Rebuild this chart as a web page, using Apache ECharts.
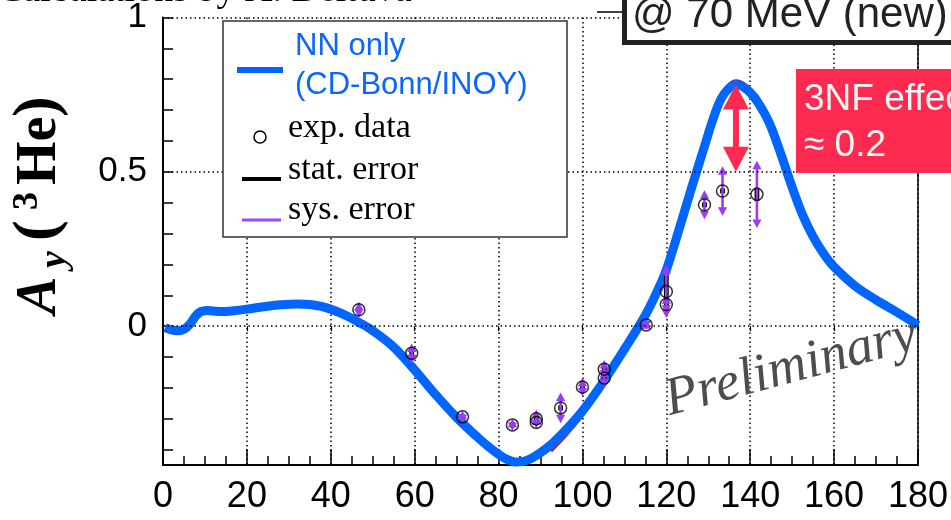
<!DOCTYPE html>
<html><head><meta charset="utf-8">
<script src="https://cdn.jsdelivr.net/npm/echarts@6/dist/echarts.min.js"></script>
<style>html,body{margin:0;padding:0;background:#fff}#c{width:951px;height:520px}</style>
</head><body><div id="c"></div>
<script>
// ---- data ----
const xTickValues = [0, 20, 40, 60, 80, 100, 120, 140, 160, 180];
const yLabels = [0, 0.5, 1];
const gridValues = [0, 0.5, 1];

// NN only (CD-Bonn/INOY) - thick blue
const nnAngles = [0.5, 2, 3.5, 5, 6.5, 7.8, 9, 10.5, 12, 14, 17, 20, 24, 28, 32, 35, 38, 41, 44, 47, 50, 55, 60, 65, 70, 75, 78, 80, 82, 84, 86, 88, 90, 93, 96, 100, 105, 110, 115, 118, 120, 123, 126, 129, 131, 133, 135, 136.6, 138, 140, 142, 144.5, 147, 150, 152.5, 155, 157.5, 160, 165, 170, 175, 180];
const nnValues = [-0.005, -0.012, -0.015, -0.01, 0.008, 0.033, 0.047, 0.051, 0.049, 0.047, 0.05, 0.055, 0.063, 0.069, 0.072, 0.07, 0.063, 0.05, 0.032, 0.01, -0.015, -0.068, -0.142, -0.222, -0.296, -0.36, -0.395, -0.415, -0.432, -0.44, -0.438, -0.427, -0.41, -0.378, -0.337, -0.275, -0.18, -0.075, 0.035, 0.118, 0.182, 0.312, 0.447, 0.578, 0.665, 0.735, 0.772, 0.783, 0.778, 0.757, 0.722, 0.66, 0.57, 0.45, 0.36, 0.29, 0.235, 0.192, 0.13, 0.085, 0.045, 0.003];

// other calculations (mostly hidden under the blue band)
const darkAngles = [89.5, 93, 96, 100, 105, 110, 115, 120, 126, 131, 134, 136.6, 139, 142, 147, 150, 155, 160, 170, 180];
const darkValues = [-0.425, -0.39, -0.348, -0.285, -0.188, -0.08, 0.03, 0.178, 0.445, 0.668, 0.76, 0.788, 0.777, 0.726, 0.572, 0.452, 0.292, 0.194, 0.086, 0.003];
const redAngles = [92.5, 96, 100, 105, 110, 115, 120, 126, 131, 134, 136.6, 139, 142, 147, 150, 155, 160, 170, 180];
const redValues = [-0.405, -0.355, -0.29, -0.193, -0.085, 0.027, 0.175, 0.442, 0.672, 0.765, 0.795, 0.78, 0.73, 0.575, 0.455, 0.295, 0.196, 0.087, 0.003];

// experimental data
const expAngles = [46.7, 59.3, 71.4, 83.3, 89.0, 89.0, 94.8, 100.0, 105.2, 105.2, 115.2, 120.0, 120.0, 129.1, 133.4, 141.6];
const expValues = [0.053, -0.088, -0.294, -0.32, -0.30, -0.312, -0.265, -0.197, -0.14, -0.168, 0.004, 0.112, 0.07, 0.393, 0.438, 0.427];
const statErrors = [0.008, 0.008, 0.008, 0.008, 0.008, 0.008, 0.008, 0.008, 0.008, 0.008, 0.008, 0.05, 0.015, 0.008, 0.008, 0.022];
const sysErrors = [0.026, 0.032, 0.02, 0.02, 0.03, 0.02, 0.05, 0.03, 0.03, 0.03, 0.015, 0.086, 0.03, 0.047, 0.08, 0.109];

// 3NF effect arrow (angle, from, to)
const arrowAngle = 136.6, arrowFrom = 0.783, arrowTo = 0.5;

// ---- chart ----
const BLUE = '#0066ff', PURPLE = '#9a3cf6', RED = '#ff2a50';
const zip = (a, b) => a.map((v, i) => [v, b[i]]);

const chart = echarts.init(document.getElementById('c'), null, {renderer: 'canvas'});
const option = {
  animation: false,
  backgroundColor: '#fff',
  grid: {left: 163, top: 12, width: 757, height: 453, containLabel: false},
  xAxis: [{
    type: 'value', min: 0, max: 180, interval: 20, position: 'bottom',
    axisLine: {show: true, onZero: false, lineStyle: {color: '#000', width: 2}},
    axisTick: {show: true, inside: true, length: 16, lineStyle: {color: '#000', width: 1.5}},
    minorTick: {show: true, splitNumber: 4, length: 9, lineStyle: {color: '#000', width: 1.5}},
    axisLabel: {fontSize: 36, fontFamily: 'Liberation Sans', color: '#000', margin: 14,
      formatter: v => xTickValues.includes(Math.round(v)) ? String(Math.round(v)) : ''},
    splitLine: {show: true, lineStyle: {type: [1.5, 3], color: '#000', width: 1.5}}
  }, {
    type: 'value', min: 0, max: 180, interval: 20, position: 'top',
    axisLine: {show: false}, axisLabel: {show: false},
    axisTick: {show: true, inside: true, length: 5, lineStyle: {color: '#000', width: 1.2}},
    splitLine: {show: false}
  }],
  yAxis: [{
    type: 'value', min: -0.45, max: 1, minInterval: 0.1, maxInterval: 0.1, splitNumber: 14,
    axisLine: {show: true, onZero: false, lineStyle: {color: '#000', width: 2}},
    axisTick: {show: true, inside: true, length: 10, lineStyle: {color: '#000', width: 1.5}},
    axisLabel: {fontSize: 35, fontFamily: 'Liberation Sans', color: '#000', margin: 16,
      showMinLabel: false,
      formatter: v => { const l = yLabels.find(t => Math.abs(t - v) < 1e-6); return l === undefined ? '' : String(l); }},
    splitLine: {show: false}
  }, {
    type: 'value', min: -0.45, max: 1, position: 'right',
    axisLine: {show: true, onZero: false, lineStyle: {color: '#000', width: 1.5}},
    axisTick: {show: false}, axisLabel: {show: false}, splitLine: {show: false}
  }],
  series: [
    {
      type: 'line', name: 'grid', data: [], z: 1, silent: true,
      markLine: {
        silent: true, symbol: ['none', 'none'], label: {show: false},
        lineStyle: {type: [1.5, 3], color: '#000', width: 1.5},
        emphasis: {disabled: true},
        data: gridValues.map(v => ({yAxis: v}))
      }
    },
    {type: 'line', name: 'red', data: zip(redAngles, redValues), showSymbol: false, smooth: 0.35, z: 2,
      lineStyle: {color: '#ff0000', width: 3}, silent: true},
    {type: 'line', name: 'dark', data: zip(darkAngles, darkValues), showSymbol: false, smooth: 0.35, z: 2,
      lineStyle: {color: '#0000ee', width: 3}, silent: true},
    {type: 'line', name: 'NN only', data: zip(nnAngles, nnValues), showSymbol: false, smooth: 0.35, z: 3,
      lineStyle: {color: BLUE, width: 9}, silent: true},
    {
      type: 'custom', name: 'errors', z: 4, silent: true,
      data: expAngles.map((a, i) => [a, expValues[i], statErrors[i], sysErrors[i]]),
      renderItem: (params, api) => {
        const x = api.value(0), y = api.value(1), st = api.value(2), sy = api.value(3);
        const c = api.coord([x, y]);
        const t = api.coord([x, y + sy]), b = api.coord([x, y - sy]);
        const st1 = api.coord([x, y + st]), sb1 = api.coord([x, y - st]);
        const hw = 4.6, hh = 8.5;
        return {
          type: 'group', children: [
            {type: 'rect', shape: {x: c[0] - 2.4, y: st1[1], width: 4.8, height: Math.max(sb1[1] - st1[1], 1)},
              style: {fill: '#000'}},
            {type: 'line', shape: {x1: c[0], y1: t[1] + hh * 0.6, x2: c[0], y2: b[1] - hh * 0.6},
              style: {stroke: PURPLE, lineWidth: 2.6}},
            {type: 'polygon', shape: {points: [[c[0] - hw, t[1] + hh], [c[0], t[1]], [c[0] + hw, t[1] + hh]]},
              style: {fill: PURPLE}},
            {type: 'polygon', shape: {points: [[c[0] - hw, b[1] - hh], [c[0], b[1]], [c[0] + hw, b[1] - hh]]},
              style: {fill: PURPLE}}
          ]
        };
      }
    },
    {type: 'scatter', name: 'exp. data', data: zip(expAngles, expValues), z: 5, silent: true,
      symbol: 'circle', symbolSize: 12,
      itemStyle: {color: 'rgba(0,0,0,0)', borderColor: '#000', borderWidth: 1.5}}
  ]
};
chart.setOption(option);

// ---- annotations ----
const pTop = chart.convertToPixel({gridIndex: 0}, [arrowAngle, arrowFrom]);
const pBot = chart.convertToPixel({gridIndex: 0}, [arrowAngle, arrowTo]);
const ax = pTop[0];
const aw = 13, ah = 25;
const serif = '"Liberation Serif", "DejaVu Serif", serif';
const sans = '"Liberation Sans", Arial, sans-serif';
const T = (x, y, text, font, fill, extra) => Object.assign({type: 'text', x, y, z: 100,
  style: {text, font, fill, textAlign: 'left', textVerticalAlign: 'middle'}}, extra || {});

const graphics = [
  // top-left calc text (clipped)
  T(-2, -8.5, 'Calculations by A. Deltuva', '38px ' + serif, '#000'),
  // legend box
  {type: 'rect', z: 90, shape: {x: 223, y: 21, width: 344, height: 216}, style: {fill: '#fff', stroke: '#333', lineWidth: 1.5}},
  {type: 'line', z: 100, shape: {x1: 237, y1: 70, x2: 283, y2: 70}, style: {stroke: BLUE, lineWidth: 6}},
  T(295, 46, 'NN only', '31px ' + sans, '#0a66ff'),
  T(295, 85, '(CD-Bonn/INOY)', '31px ' + sans, '#0a66ff'),
  {type: 'circle', z: 100, shape: {cx: 260, cy: 137, r: 6}, style: {fill: 'none', stroke: '#000', lineWidth: 1.5}},
  T(288, 128.5, 'exp. data', '34px ' + serif, '#000'),
  {type: 'line', z: 100, shape: {x1: 242, y1: 179, x2: 281, y2: 179}, style: {stroke: '#000', lineWidth: 4}},
  T(288, 170.5, 'stat. error', '34px ' + serif, '#000'),
  {type: 'line', z: 100, shape: {x1: 242, y1: 220, x2: 281, y2: 220}, style: {stroke: '#a046f2', lineWidth: 3}},
  T(288, 210.5, 'sys. error', '34px ' + serif, '#000'),
  // energy box
  {type: 'line', z: 90, shape: {x1: 597, y1: 12, x2: 622, y2: 12}, style: {stroke: '#000', lineWidth: 1.5}},
  {type: 'rect', z: 90, shape: {x: 624.5, y: -10, width: 340, height: 52.5}, style: {fill: '#fff', stroke: '#222', lineWidth: 5}},
  T(632, 15, '@ 70 MeV (new)', '42px ' + sans, '#222'),
  // 3NF effect box
  {type: 'rect', z: 90, shape: {x: 796, y: 69, width: 160, height: 104}, style: {fill: RED}},
  T(804, 100, '3NF effect', '37px ' + sans, '#f6f6f6'),
  T(804, 146, '\u2248 0.2', '37px ' + sans, '#f6f6f6'),
  // red double arrow
  {type: 'rect', z: 95, shape: {x: ax - 3, y: pTop[1] + ah - 2, width: 6, height: pBot[1] - pTop[1] - 2 * ah + 4}, style: {fill: RED}},
  {type: 'polygon', z: 95, shape: {points: [[ax - aw, pTop[1] + ah], [ax, pTop[1]], [ax + aw, pTop[1] + ah]]}, style: {fill: RED}},
  {type: 'polygon', z: 95, shape: {points: [[ax - aw, pBot[1] - ah], [ax, pBot[1]], [ax + aw, pBot[1] - ah]]}, style: {fill: RED}},
  // Preliminary
  {type: 'text', z: 100, x: 791, y: 368, rotation: 0.2618,
    style: {text: 'Preliminary', font: 'italic 54px ' + serif, fill: '#4d4d4d', textAlign: 'center', textVerticalAlign: 'middle'}},
  // y-axis title A_y(3He), rotated
  T(41, 314, 'A', 'italic bold 56px ' + serif, '#000', {rotation: Math.PI / 2}),
  T(55, 268, 'y', 'italic bold 38px ' + serif, '#000', {rotation: Math.PI / 2}),
  T(39, 241, '(', 'bold 62px ' + serif, '#000', {rotation: Math.PI / 2}),
  T(28, 210, '3', 'bold 36px ' + serif, '#000', {rotation: Math.PI / 2}),
  T(41, 185, 'He', 'bold 56px ' + serif, '#000', {rotation: Math.PI / 2}),
  T(39, 117, ')', 'bold 62px ' + serif, '#000', {rotation: Math.PI / 2})
];
chart.setOption({graphic: {elements: graphics}});
</script>
</body></html>
